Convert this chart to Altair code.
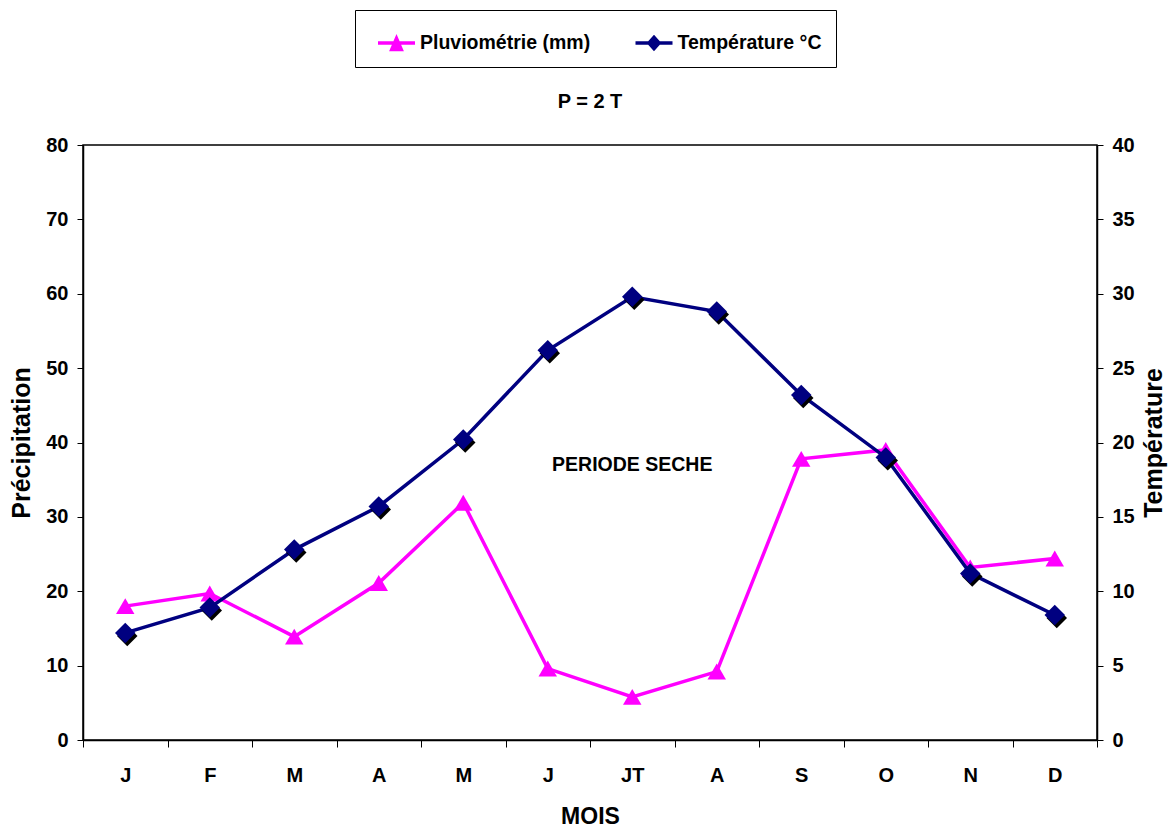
import altair as alt
import pandas as pd

# ---- data ----
mois = ["Janvier", "Février", "Mars", "Avril", "Mai", "Juin", "Juillet",
        "Août", "Septembre", "Octobre", "Novembre", "Décembre"]
mois_labels = ["J", "F", "M", "A", "M", "J", "JT", "A", "S", "O", "N", "D"]
pluviometrie = [18.0, 19.7, 13.9, 21.1, 31.9, 9.6, 5.8, 9.2, 37.8, 39.0, 23.2, 24.4]
temperature = [7.2, 8.9, 12.8, 15.7, 20.2, 26.2, 29.8, 28.8, 23.2, 19.0, 11.2, 8.4]
series_names = ["Pluviométrie (mm)", "Température °C"]
series_colors = ["#FF00FF", "#000080"]
p_ticks = [0, 10, 20, 30, 40, 50, 60, 70, 80]
t_ticks = [0, 5, 10, 15, 20, 25, 30, 35, 40]
annotation_text = ["PERIODE SECHE"]
annotation_mois = ["Juillet"]
annotation_p = [37.0]

FONT = "Liberation Sans, Arial, sans-serif"
MAG, NAVY = series_colors

df = pd.DataFrame({"mois": mois, "p": pluviometrie, "t": temperature})
ann = pd.DataFrame({"mois": annotation_mois, "p": annotation_p, "label": annotation_text})
leg = pd.DataFrame({"serie": series_names})

label_expr = ("[" + ",".join("'%s'" % l for l in mois_labels) + "][indexof(["
              + ",".join("'%s'" % m for m in mois) + "], datum.value)]")

x_enc = alt.X(
    "mois:N", sort=mois,
    scale=alt.Scale(type="band", domain=mois, paddingInner=0, paddingOuter=0),
    axis=alt.Axis(title="MOIS", labelExpr=label_expr, tickBand="extent",
                  labelAngle=0, tickSize=7, labelPadding=18, titlePadding=20,
                  titleFontSize=23),
)
y_left = alt.Y(
    "p:Q", scale=alt.Scale(domain=[0, 80], nice=False),
    axis=alt.Axis(title="Précipitation", orient="left", values=p_ticks,
                  tickSize=6, labelPadding=9, titlePadding=11, titleFontSize=25),
)
y_right = alt.Y(
    "t:Q", scale=alt.Scale(domain=[0, 40], nice=False),
    axis=alt.Axis(title="Température", orient="right", values=t_ticks,
                  tickSize=6, labelPadding=9, titlePadding=32, titleAngle=270,
                  titleFontSize=25),
)

# custom legend symbols: line with marker
tri_path = "M-1,-0.1L1,-0.1L1,0.1L-1,0.1Z M0,-0.48L0.4,0.44L-0.4,0.44Z"
dia_path = "M-1,-0.1L1,-0.1L1,0.1L-1,0.1Z M0,-0.44L0.4,0L0,0.44L-0.4,0Z"
legend = alt.Legend(
    title=None, orient="none", legendX=272, legendY=-135, direction="horizontal",
    strokeColor="black", fillColor="white", padding=14.5, symbolOffset=8.5,
    symbolSize=1369, symbolStrokeWidth=0, labelFont=FONT, labelFontSize=19.5,
    labelFontWeight="bold", labelColor="black", labelLimit=400,
    columnPadding=36.5, labelOffset=5,
)

base = alt.Chart(df)
p_line = base.mark_line(color=MAG, strokeWidth=3.5).encode(x=x_enc, y=y_left)
p_pts = base.mark_point(shape="triangle-up", filled=True, color=MAG, size=340,
                        opacity=1).encode(x=x_enc, y=y_left)
p_text = alt.Chart(ann).mark_text(font=FONT, fontSize=19.5, fontWeight="bold",
                                  color="black").encode(x=x_enc, y=y_left, text="label:N")
ghost = alt.Chart(leg).transform_filter("false").mark_point(filled=True, opacity=1).encode(
    color=alt.Color("serie:N", scale=alt.Scale(domain=series_names, range=series_colors),
                    legend=legend),
    shape=alt.Shape("serie:N", scale=alt.Scale(domain=series_names, range=[tri_path, dia_path]),
                    legend=legend),
)

t_line = base.mark_line(color=NAVY, strokeWidth=3.5).encode(x=x_enc, y=y_right)
t_shadow = base.mark_point(shape="diamond", filled=True, color="black", size=420,
                           opacity=1, xOffset=2, yOffset=3).encode(x=x_enc, y=y_right)
t_pts = base.mark_point(shape="diamond", filled=True, color=NAVY, size=420,
                        opacity=1).encode(x=x_enc, y=y_right)

chart = alt.layer(
    alt.layer(p_line, p_pts, p_text, ghost),
    alt.layer(t_line, t_shadow, t_pts),
).resolve_scale(y="independent").properties(
    width=1014, height=595,
    title=alt.TitleParams("P = 2 T", font=FONT, fontSize=20, fontWeight="bold",
                          color="black", anchor="middle", offset=0, dy=122,
                          baseline="bottom"),
    autosize=alt.AutoSizeParams(type="none"),
    padding={"left": 83, "top": 145, "right": 75, "bottom": 91},
    background="white",
).configure_view(stroke="black", strokeWidth=1.5).configure_axis(
    labelFont=FONT, labelFontSize=20, labelFontWeight="bold", labelColor="black",
    titleFont=FONT, titleFontSize=22, titleFontWeight="bold", titleColor="black",
    domainColor="black", domainWidth=1.5, tickColor="black", tickWidth=1, grid=False,
)

chart.save("out.html", embed_options={"renderer": "svg", "actions": False})
